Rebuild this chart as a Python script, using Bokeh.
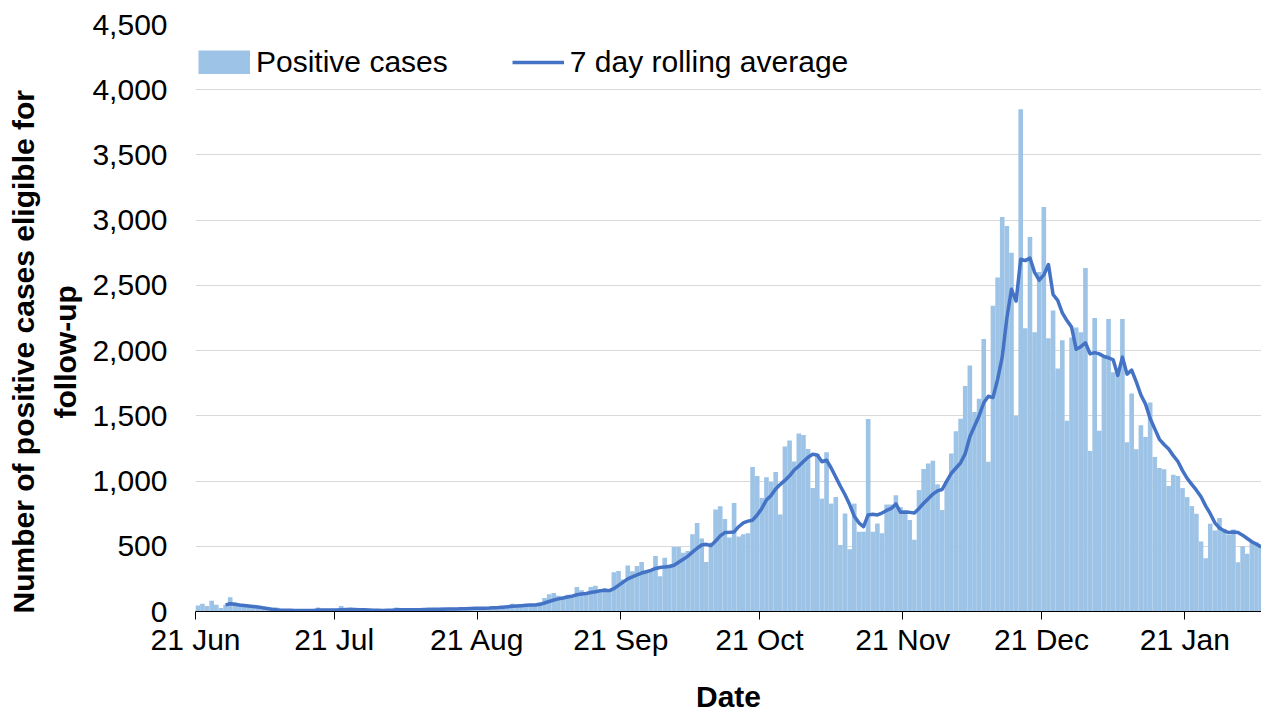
import pandas as pd
from bokeh.plotting import figure
from bokeh.models import (ColumnDataSource, Range1d, FixedTicker, NumeralTickFormatter,
                          DatetimeTickFormatter, Legend, LegendItem, Title)
from bokeh.embed import file_html
from bokeh.resources import INLINE

# ---------------- data ----------------
start_date = "2021-06-21"

# daily positive cases eligible for follow-up (21 Jun 2021 -> 6 Feb 2022)
cases = [
    46, 59, 43, 82, 51, 26, 51, 110, 69, 51,
    43, 38, 33, 31, 20, 18, 18, 31, 12, 10,
    8, 10, 7, 9, 6, 8, 31, 10, 6, 8,
    12, 43, 10, 31, 8, 10, 6, 9, 7, 10,
    8, 12, 9, 31, 10, 8, 12, 9, 14, 12,
    31, 10, 14, 31, 12, 16, 14, 31, 15, 18,
    30, 26, 26, 26, 30, 38, 44, 44, 59, 44,
    51, 51, 51, 51, 69, 103, 133, 141, 120, 103,
    128, 128, 187, 162, 136, 187, 197, 172, 179, 167,
    300, 310, 245, 353, 309, 348, 379, 309, 309, 425,
    270, 412, 361, 495, 495, 451, 464, 593, 678, 559,
    379, 528, 781, 807, 709, 567, 832, 575, 593, 600,
    1108, 1038, 871, 1030, 992, 1069, 744, 1264, 1310, 1150,
    1365, 1353, 1246, 947, 1208, 865, 1221, 827, 878, 510,
    751, 477, 827, 612, 612, 1475, 612, 675, 599, 820,
    820, 891, 800, 779, 702, 550, 931, 1092, 1135, 1155,
    975, 779, 1000, 1211, 1382, 1478, 1728, 1886, 1529, 1631,
    2089, 1148, 2344, 2560, 3024, 2955, 2750, 1501, 3851, 2172,
    2870, 2141, 2602, 3101, 2095, 2307, 1862, 2080, 1462, 2100,
    2178, 2140, 2633, 1230, 2250, 1385, 1950, 2242, 1835, 1850,
    2242, 1297, 1672, 1243, 1427, 1337, 1602, 1184, 1100, 1090,
    962, 1049, 1038, 946, 877, 808, 749, 537, 409, 672,
    621, 716, 634, 588, 629, 378, 501, 442, 537, 531, 506,
]

# 7 day rolling average, first value on 27 Jun 2021
avg_start_date = "2021-06-27"
rolling_avg = [
    51, 59, 55, 50, 46, 42, 38, 34, 28, 23, 18, 13,
    10, 9, 9, 8, 8, 8, 8, 8, 11, 11, 11, 11, 12, 14, 15, 16,
    15, 14, 13, 12, 9, 9, 8, 9, 10, 13, 13, 13, 13, 13, 14, 16,
    16, 18, 18, 18, 20, 20, 20, 21, 22, 23, 24,
    24, 25, 26, 28, 30, 33, 36, 40, 43, 45,
    47, 49, 50, 55, 65, 77, 88, 97, 104, 111,
    118, 128, 134, 138, 145, 152, 158, 163, 160, 175,
    200, 225, 250, 265, 280, 295, 305, 315, 330, 337,
    342, 345, 355, 378, 400, 425, 455, 485, 510, 515,
    505, 540, 580, 605, 607, 610, 650, 680, 693, 700, 740, 790,
    855, 890, 940, 975, 1005, 1040, 1085, 1115, 1150, 1183,
    1205, 1200, 1148, 1160, 1100, 1030, 960, 895, 820, 730,
    680, 650, 740, 745, 740, 755, 775, 790, 825, 760, 760,
    760, 755, 790, 830, 865, 900, 925, 935, 1000, 1060,
    1100, 1140, 1210, 1340, 1420, 1500, 1600, 1650, 1640, 1780, 1950,
    2250, 2470, 2380, 2700, 2690, 2710, 2600, 2540, 2580, 2660, 2430, 2385,
    2290, 2230, 2180, 2010, 2030, 2060, 1975, 1985, 1975, 1955, 1945, 1930,
    1810, 1950, 1820, 1850, 1760, 1660,
    1590, 1480, 1400, 1320, 1280, 1245, 1195, 1150, 1080, 1020, 975, 930,
    880, 810, 750, 680, 640, 618, 605, 610, 605, 585, 560, 535, 515, 495,
]

tick_dates = ["2021-06-21", "2021-07-21", "2021-08-21", "2021-09-21",
              "2021-10-21", "2021-11-21", "2021-12-21", "2022-01-21"]
y_ticks = [0, 500, 1000, 1500, 2000, 2500, 3000, 3500, 4000, 4500]
y_title_line1 = "Number of positive cases eligible for"
y_title_line2 = "follow-up"

# ---------------- build ----------------
half_day = pd.Timedelta(hours=12)
day = pd.Timedelta(days=1)
bar_dates = pd.date_range(start_date, periods=len(cases), freq="D") + half_day
avg_dates = pd.date_range(avg_start_date, periods=len(rolling_avg), freq="D") + half_day

bar_src = ColumnDataSource(dict(x=bar_dates, cases=cases))
line_src = ColumnDataSource(dict(x=avg_dates, avg=rolling_avg))

x0 = pd.Timestamp(start_date)
x1 = x0 + pd.Timedelta(hours=int(230.6 * 24))

FONT = "Liberation Sans"
BAR = "#9DC3E6"
LINE = "#4472C4"

p = figure(width=1261, height=715, x_axis_type="datetime",
           x_range=Range1d(x0, x1), y_range=Range1d(0, 4500),
           output_backend="svg", toolbar_location=None,
           min_border_left=195, min_border_right=0,
           min_border_top=24, min_border_bottom=103,
           outline_line_color=None, background_fill_color="white",
           border_fill_color="white")

r_bar = p.vbar(x="x", top="cases", width=day, source=bar_src,
               fill_color=BAR, line_color=None)
r_line = p.line(x="x", y="avg", source=line_src, line_color=LINE,
                line_width=3.5, line_join="round")
# legend swatch for the bars (a single NaN point: shown only in the legend)
r_swatch = p.line(x=[float("nan")], y=[float("nan")], line_color=BAR,
                  line_width=24, line_cap="butt")

# axes
xt = [pd.Timestamp(d).value // 10**6 for d in tick_dates]
p.xaxis.ticker = FixedTicker(ticks=xt)
fmt = "%d %b"
p.xaxis.formatter = DatetimeTickFormatter(days=fmt, months=fmt, years=fmt,
                                          hours=fmt, hourmin=fmt, minutes=fmt,
                                          minsec=fmt, seconds=fmt, milliseconds=fmt,
                                          microseconds=fmt)
p.xaxis.axis_line_color = "#000000"
p.xaxis.axis_line_width = 1
p.xaxis.major_tick_line_color = "#000000"
p.xaxis.major_tick_out = 8
p.xaxis.major_tick_in = 0
p.xaxis.minor_tick_line_color = None
p.xaxis.major_label_standoff = 3
p.xaxis.axis_label = "Date"
p.xaxis.axis_label_standoff = 21

p.yaxis.ticker = FixedTicker(ticks=y_ticks)
p.yaxis.formatter = NumeralTickFormatter(format="0,0")
p.yaxis.axis_line_color = None
p.yaxis.major_tick_line_color = None
p.yaxis.minor_tick_line_color = None
p.yaxis.major_label_standoff = 22

for ax in (p.xaxis, p.yaxis):
    ax.major_label_text_font = FONT
    ax.major_label_text_font_size = "30px"
    ax.major_label_text_color = "#000000"
    ax.axis_label_text_font = FONT
    ax.axis_label_text_font_size = "30px"
    ax.axis_label_text_font_style = "bold"
    ax.axis_label_text_color = "#000000"

# y-axis title as two stacked side titles (second line nearest the axis)
title_style = dict(text_font=FONT, text_font_size="30px", text_font_style="bold",
                   text_color="#000000", align="left")
p.add_layout(Title(text=y_title_line2, offset=193, standoff=15, **title_style), "left")
p.add_layout(Title(text=y_title_line1, offset=-2, standoff=0, **title_style), "left")

p.xgrid.grid_line_color = None
p.ygrid.ticker = FixedTicker(ticks=y_ticks)
p.ygrid.grid_line_color = "#D9D9D9"
p.ygrid.grid_line_width = 1

legend = Legend(items=[LegendItem(label="Positive cases", renderers=[r_swatch]),
                       LegendItem(label="7 day rolling average", renderers=[r_line])],
                orientation="horizontal", location=(3, 532),
                label_text_font=FONT, label_text_font_size="30px",
                label_text_color="#000000",
                glyph_width=52, glyph_height=24, label_standoff=6, spacing=64,
                padding=0, margin=0, border_line_color=None,
                background_fill_alpha=0)
p.add_layout(legend, "center")

open("out.html", "w").write(file_html(p, INLINE))
